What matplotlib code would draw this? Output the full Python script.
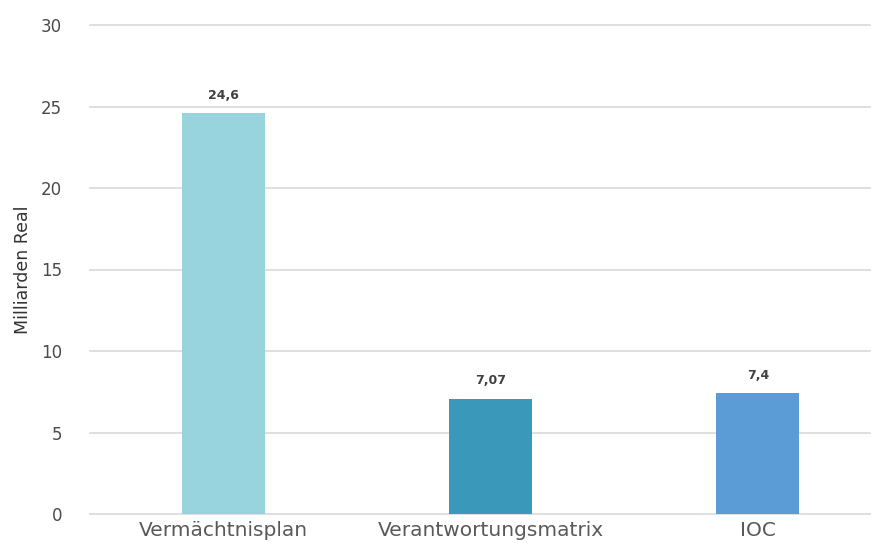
import matplotlib.pyplot as plt

categories = ["Vermächtnisplan", "Verantwortungsmatrix", "IOC"]
values = [24.6, 7.07, 7.4]
value_labels = ["24,6", "7,07", "7,4"]
colors = ["#97D4DD", "#3A98BB", "#5B9BD6"]
yticks = [0, 5, 10, 15, 20, 25, 30]

fig = plt.figure(figsize=(8.81, 5.5), dpi=100)
ax = fig.add_axes([90 / 881, 36 / 550, 780 / 881, 489 / 550])

x = range(len(categories))
bars = ax.bar(x, values, width=0.31, color=colors, zorder=3)

for b, lab in zip(bars, value_labels):
    ax.text(b.get_x() + b.get_width() / 2, b.get_height() + 0.7, lab,
            ha="center", va="bottom", fontsize=9, color="#404040",
            fontweight="bold", family="DejaVu Sans")

ax.set_xlim(-0.5, 2.42)
ax.set_ylim(0, 30)
ax.set_yticks(yticks)
ax.set_yticklabels([str(t) for t in yticks], fontsize=12, color="#4A4A4A")
ax.set_xticks(list(x))
ax.set_xticklabels(categories, fontsize=14.5, color="#595959",
                   family="DejaVu Sans")
ax.tick_params(axis="y", length=0, pad=20)
ax.tick_params(axis="x", length=0, pad=5)
ax.grid(axis="y", color="#D9D9D9", linewidth=1.2, zorder=0)
for gl in ax.get_ygridlines():
    gl.set_clip_on(False)
for s in ax.spines.values():
    s.set_visible(False)

ax.set_ylabel("Milliarden Real", fontsize=12.5, color="#333333")
ax.yaxis.set_label_coords(-58 / 780, 0.5)

fig.savefig("out.png", dpi=100)
